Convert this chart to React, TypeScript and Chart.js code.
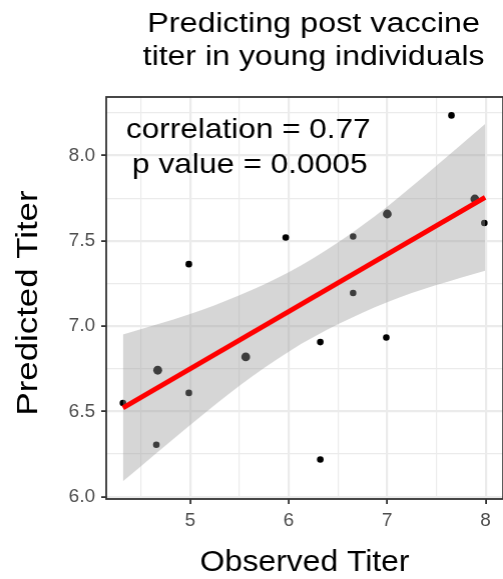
import React, { useEffect, useRef } from "react";
import { Chart, registerables } from "chart.js";

Chart.register(...registerables);

// ---- data ----
const obsX = [4.317, 4.656, 4.670, 4.986, 4.986, 5.564, 5.970, 6.321, 6.321, 6.654, 6.654, 7.001, 6.991, 7.653, 7.891, 7.987];
const predY = [6.549, 6.304, 6.741, 7.363, 6.608, 6.819, 7.519, 6.906, 6.218, 7.525, 7.194, 7.657, 6.933, 8.235, 7.745, 7.604];
const overlapCount = [1, 1, 2, 1, 1, 2, 1, 1, 1, 1, 1, 2, 1, 1, 2, 1];

const fitX = [4.317, 7.995];
const fitY = [6.52, 7.755];

const bandX = [4.317, 5.0, 5.5, 6.0, 6.5, 7.0, 7.5, 7.995];
const bandUpper = [6.95, 7.07, 7.18, 7.315, 7.49, 7.70, 7.94, 8.185];
const bandLower = [6.09, 6.42, 6.65, 6.85, 7.01, 7.14, 7.24, 7.325];

const titleLines = ["Predicting post vaccine", "titer in young individuals"];
const annotationLines = ["correlation = 0.77", "p value = 0.0005"];
const xTitle = "Observed Titer";
const yTitle = "Predicted Titer";

const xMajorTicks = [5, 6, 7, 8];
const yMajorTicks = [6.0, 6.5, 7.0, 7.5, 8.0];

const FONT = '"Liberation Sans", Arial, Helvetica, sans-serif';

function isMajor(v: number, majors: number[]) {
  return majors.some((m) => Math.abs(m - v) < 1e-6);
}

function drawStretched(
  ctx: CanvasRenderingContext2D,
  text: string,
  x: number,
  y: number,
  size: number,
  targetWidth: number,
  rot = 0
) {
  ctx.save();
  ctx.font = `${size}px ${FONT}`;
  const w = ctx.measureText(text).width;
  const sx = targetWidth / w;
  ctx.translate(x, y);
  if (rot) ctx.rotate(rot);
  ctx.scale(sx, 1);
  ctx.textAlign = "center";
  ctx.textBaseline = "alphabetic";
  ctx.fillStyle = "#000000";
  ctx.fillText(text, 0, 0);
  ctx.restore();
}

const decorPlugin = {
  id: "decor",
  afterDraw(chart: any) {
    const ctx: CanvasRenderingContext2D = chart.ctx;
    const a = chart.chartArea;
    const xs = chart.scales.x;
    // panel border
    ctx.save();
    ctx.strokeStyle = "#333333";
    ctx.lineWidth = 1.8;
    ctx.strokeRect(a.left, a.top, a.right - a.left, a.bottom - a.top);
    ctx.restore();
    // title
    drawStretched(ctx, titleLines[0], 313, 32, 27, 332);
    drawStretched(ctx, titleLines[1], 313, 65, 27, 341);
    // annotation
    const annX = xs.getPixelForValue(5.59);
    drawStretched(ctx, annotationLines[0], annX, 137.5, 28, 244);
    drawStretched(ctx, annotationLines[1], annX + 1.5, 172.5, 28, 235);
    // axis titles
    drawStretched(ctx, xTitle, (a.left + a.right) / 2, 571, 30, 209);
    drawStretched(ctx, yTitle, 36.5, (a.top + a.bottom) / 2 + 5, 29, 225, -Math.PI / 2);
  },
};

export default function App() {
  const canvasRef = useRef<HTMLCanvasElement | null>(null);

  useEffect(() => {
    if (!canvasRef.current) return;
    const points = obsX.map((x, i) => ({ x, y: predY[i] }));
    const fit = fitX.map((x, i) => ({ x, y: fitY[i] }));
    const upper = bandX.map((x, i) => ({ x, y: bandUpper[i] }));
    const lower = bandX.map((x, i) => ({ x, y: bandLower[i] }));

    const chart = new Chart(canvasRef.current, {
      type: "scatter",
      data: {
        datasets: [
          {
            label: "fit",
            type: "line",
            data: fit,
            borderColor: "#ff0000",
            borderWidth: 5,
            pointRadius: 0,
            fill: false,
            order: 0,
          } as any,
          {
            label: "upper",
            type: "line",
            data: upper,
            borderWidth: 0,
            borderColor: "rgba(0,0,0,0)",
            backgroundColor: "rgba(153,153,153,0.4)",
            pointRadius: 0,
            cubicInterpolationMode: "monotone",
            fill: "+1",
            order: 1,
          } as any,
          {
            label: "lower",
            type: "line",
            data: lower,
            borderWidth: 0,
            borderColor: "rgba(0,0,0,0)",
            pointRadius: 0,
            cubicInterpolationMode: "monotone",
            fill: false,
            order: 1,
          } as any,
          {
            label: "obs",
            data: points,
            backgroundColor: "#000000",
            borderWidth: 0,
            pointRadius: (c: any) => (overlapCount[c.dataIndex] > 1 ? 4.4 : 3.3),
            order: 2,
          } as any,
        ],
      },
      options: {
        animation: false,
        responsive: true,
        maintainAspectRatio: false,
        layout: { padding: { top: 97, right: 1.5, left: 0, bottom: 0 } },
        plugins: {
          legend: { display: false },
          tooltip: { enabled: false },
          title: { display: false },
        },
        scales: {
          x: {
            type: "linear",
            min: 4.147,
            max: 8.178,
            afterFit: (s: any) => {
              s.height = 80;
              s.paddingLeft = 0;
              s.paddingRight = 0;
            },
            border: { display: false },
            grid: {
              color: "#ebebeb",
              lineWidth: (c: any) => (isMajor(c.tick.value, xMajorTicks) ? 2.2 : 1.2),
              tickLength: 5,
              tickColor: (c: any) => (isMajor(c.tick.value, xMajorTicks) ? "#333333" : "rgba(0,0,0,0)"),
              tickWidth: 1.8,
            },
            ticks: {
              stepSize: 0.5,
              includeBounds: false,
              autoSkip: false,
              maxRotation: 0,
              padding: 5,
              color: "#4d4d4d",
              font: { family: FONT, size: 19 },
              callback: (v: any) => (isMajor(Number(v), xMajorTicks) ? String(Math.round(Number(v))) : ""),
            },
          },
          y: {
            type: "linear",
            min: 5.986,
            max: 8.343,
            afterFit: (s: any) => {
              s.width = 106;
              s.paddingTop = 0;
              s.paddingBottom = 0;
            },
            border: { display: false },
            grid: {
              color: "#ebebeb",
              lineWidth: (c: any) => (isMajor(c.tick.value, yMajorTicks) ? 2.2 : 1.2),
              tickLength: 5,
              tickColor: (c: any) => (isMajor(c.tick.value, yMajorTicks) ? "#333333" : "rgba(0,0,0,0)"),
              tickWidth: 1.8,
            },
            ticks: {
              stepSize: 0.25,
              includeBounds: false,
              autoSkip: false,
              padding: 6,
              color: "#4d4d4d",
              font: { family: FONT, size: 19 },
              callback: (v: any) => (isMajor(Number(v), yMajorTicks) ? Number(v).toFixed(1) : ""),
            },
          },
        },
      },
      plugins: [decorPlugin],
    });
    return () => chart.destroy();
  }, []);

  return (
    <div style={{ position: "fixed", left: 0, top: 0, width: 503, height: 579, overflow: "hidden", background: "#ffffff" }}>
      <div style={{ position: "relative", width: 506.5, height: 579 }}>
        <canvas ref={canvasRef} />
      </div>
    </div>
  );
}
